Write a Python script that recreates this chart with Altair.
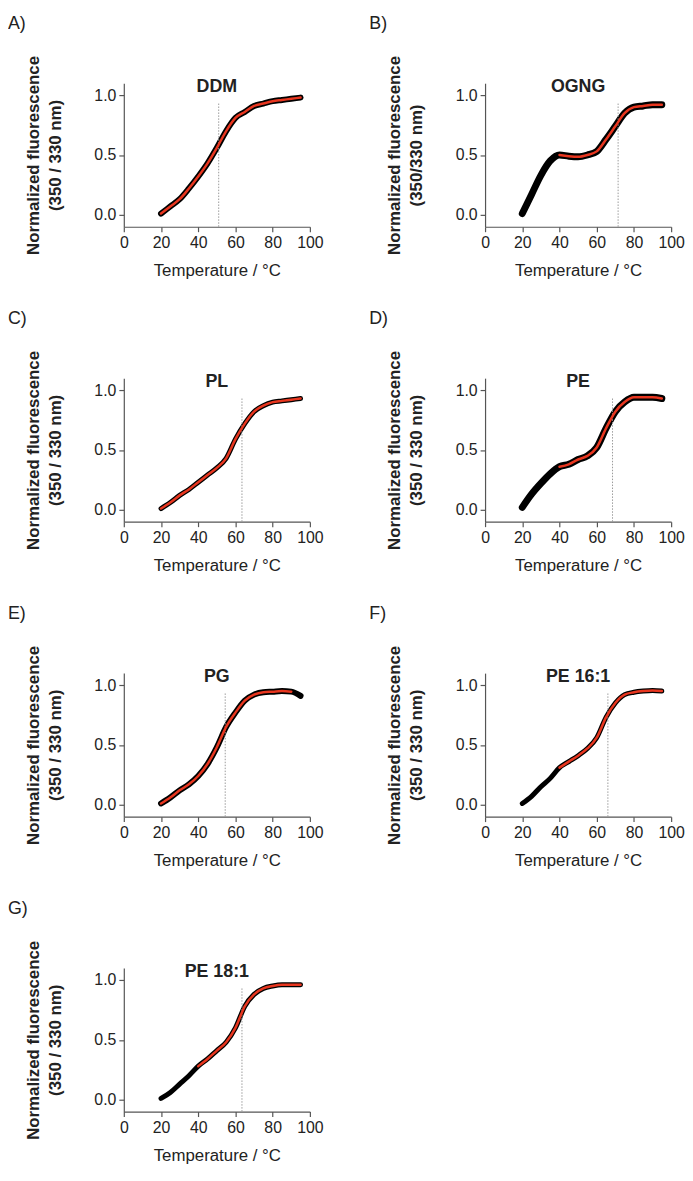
import altair as alt
import pandas as pd

FONT = "Liberation Sans"
RED = "#e8361f"

TEMPS = [20, 25, 30, 35, 40, 45, 50, 55, 60, 65, 70, 75, 80, 85, 90, 95]

letters = ["A)", "B)", "C)", "D)", "E)", "F)", "G)"]
names = ["DDM", "OGNG", "PL", "PE", "PG", "PE 16:1", "PE 18:1"]
units = ["(350 / 330 nm)", "(350/330 nm)", "(350 / 330 nm)", "(350 / 330 nm)",
         "(350 / 330 nm)", "(350 / 330 nm)", "(350 / 330 nm)"]

vals_ddm = [0.01, 0.07, 0.13, 0.22, 0.32, 0.43, 0.56, 0.70, 0.81, 0.86, 0.91, 0.93, 0.95, 0.96, 0.97, 0.98]
vals_ogng = [0.01, 0.17, 0.33, 0.45, 0.50, 0.49, 0.485, 0.50, 0.53, 0.63, 0.74, 0.85, 0.90, 0.91, 0.92, 0.92]
vals_pl = [0.01, 0.06, 0.12, 0.17, 0.23, 0.29, 0.35, 0.43, 0.59, 0.72, 0.82, 0.87, 0.90, 0.91, 0.92, 0.93]
vals_pe = [0.02, 0.13, 0.22, 0.30, 0.36, 0.38, 0.42, 0.45, 0.52, 0.68, 0.82, 0.90, 0.94, 0.94, 0.94, 0.93]
vals_pg = [0.01, 0.06, 0.12, 0.17, 0.24, 0.34, 0.48, 0.65, 0.77, 0.87, 0.92, 0.94, 0.945, 0.95, 0.945, 0.91]
vals_pe161 = [0.01, 0.07, 0.15, 0.22, 0.31, 0.36, 0.41, 0.47, 0.56, 0.73, 0.85, 0.92, 0.94, 0.95, 0.955, 0.95]
vals_pe181 = [0.01, 0.06, 0.13, 0.20, 0.28, 0.34, 0.41, 0.48, 0.60, 0.78, 0.88, 0.93, 0.95, 0.96, 0.96, 0.96]
series = [vals_ddm, vals_ogng, vals_pl, vals_pe, vals_pg, vals_pe161, vals_pe181]

fit_start = [20, 40, 20, 40, 20, 40, 40]
fit_end = [95, 95, 95, 95, 90, 95, 95]
tm_values = [51, 71.5, 63.5, 68.5, 54.5, 66, 63.5]
band_widths = [6, 7, 5, 7, 6, 5, 5]
tm_line_top = 0.93
x_ticks = [0, 20, 40, 60, 80, 100]
y_ticks = [0, 0.5, 1.0]

W, H = 188, 145


def panel(i):
    df = pd.DataFrame({"t": TEMPS, "v": series[i]})
    xscale = alt.Scale(domain=[0, 100], nice=False)
    yscale = alt.Scale(domain=[-0.1, 1.1], nice=False)
    xaxis = alt.Axis(values=x_ticks, title="Temperature / °C", labelOverlap=False,
                     labelFlush=False)
    yaxis = alt.Axis(values=y_ticks, format=".1f", labelOverlap=False, labelFlush=False,
                     title=["Normalized fluorescence", units[i]])
    x = alt.X("t:Q", scale=xscale, axis=xaxis)
    y = alt.Y("v:Q", scale=yscale, axis=yaxis)
    base = alt.Chart(df)
    data_line = base.mark_line(color="black", strokeWidth=band_widths[i],
                               interpolate="monotone", strokeCap="round",
                               strokeJoin="round").encode(x=x, y=y)
    fit_line = base.transform_filter(
        f"datum.t >= {fit_start[i]} && datum.t <= {fit_end[i]}"
    ).mark_line(color=RED, strokeWidth=2.5, interpolate="monotone",
                strokeCap="round").encode(x=x, y=y)
    tm_df = pd.DataFrame({"t": [tm_values[i]], "v": [-0.1], "hi": [tm_line_top]})
    tm_rule = alt.Chart(tm_df).mark_rule(color="#9a9a9a", strokeWidth=1,
                                         strokeDash=[1.5, 1.5]).encode(
        x=x, y=y, y2="hi:Q")
    lab_df = pd.DataFrame({"l": [letters[i]], "n": [names[i]]})
    label = alt.Chart(lab_df).mark_text(align="left", baseline="top", fontSize=18,
                                        font=FONT, color="#222").encode(
        text="l:N", x=alt.value(-117), y=alt.value(-69))
    title = alt.Chart(lab_df).mark_text(align="center", baseline="alphabetic",
                                        fontSize=18, fontWeight="bold",
                                        font=FONT, color="#222").encode(
        text="n:N", x=alt.value(W / 2), y=alt.value(9))
    return alt.layer(data_line, tm_rule, fit_line, label, title).properties(
        width=W, height=H)


chart = alt.concat(*[panel(i) for i in range(7)], columns=2,
                   spacing={"row": 32, "column": 46}).properties(
    padding={"left": 0, "top": 1, "right": 0, "bottom": 0}
).configure_axis(
    grid=False, labelFont=FONT, titleFont=FONT, labelFontSize=16, titleFontSize=17,
    labelColor="#222", titleColor="#222", domainColor="#555", tickColor="#555",
    domainWidth=1.2, tickWidth=1.2, tickSize=5, labelPadding=3
).configure_axisY(
    titleFontWeight="bold", titlePadding=30, titleLineHeight=22
).configure_axisX(
    titleFontWeight="normal", titlePadding=12
).configure_view(stroke=None)

chart.save("out.html", embed_options={"renderer": "svg", "actions": False})
